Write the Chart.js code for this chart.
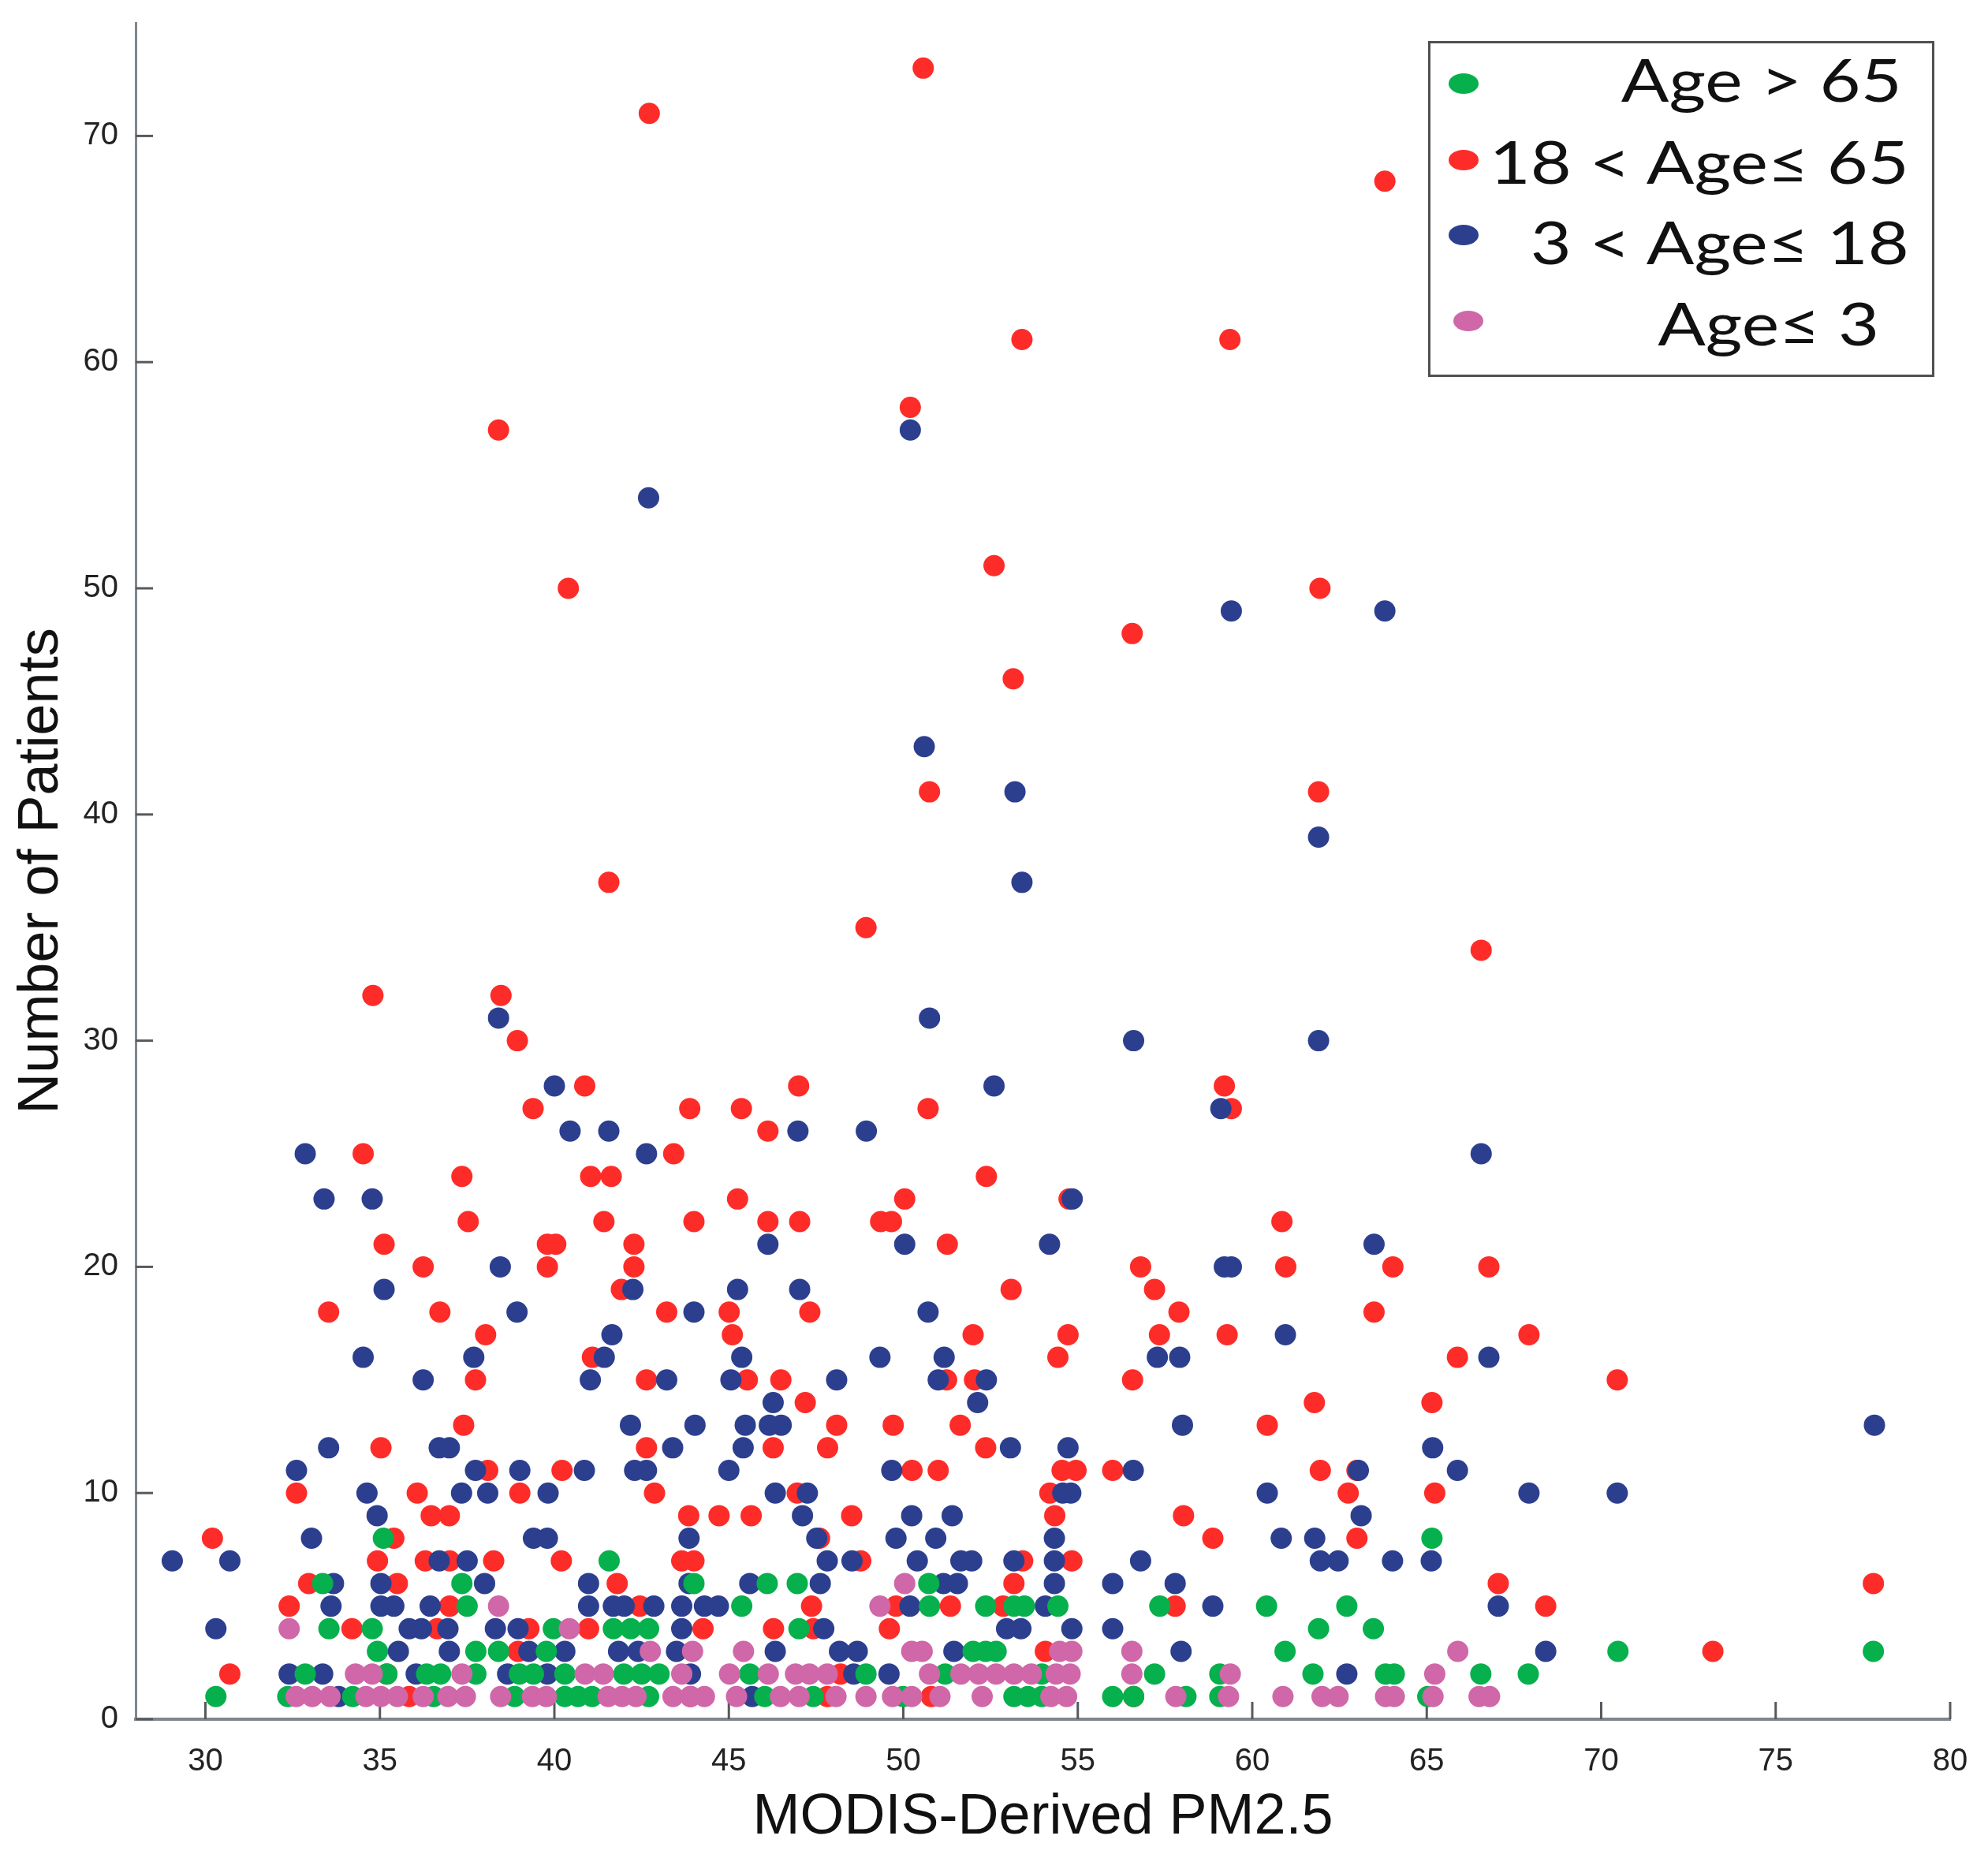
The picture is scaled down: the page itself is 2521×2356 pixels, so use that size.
<!DOCTYPE html>
<html>
<head>
<meta charset="utf-8">
<title>Number of Patients vs MODIS-Derived PM2.5</title>
<script src="https://cdn.jsdelivr.net/npm/chart.js@4.4.1/dist/chart.umd.min.js"></script>
<style>

    html, body{
        margin:0;
        padding:0;
        background:#ffffff;
        overflow:hidden;
    }

    #wrap{
        position:relative;
        width:2521px;
        height:2356px;
    }

    #legendBox{
        position:absolute;
        left:1811px;
        top:52px;
        width:642px;
        height:426px;
        box-sizing:border-box;
        border:3px solid #505050;
        background:#ffffff;
        font-family:Lato, "Open Sans", sans-serif;
        color:#111111;
    }

    .dot{
        position:absolute;
        width:38px;
        height:26px;
        border-radius:50%;
    }

    .lbl{
        position:absolute;
        font-size:76px;
        line-height:76px;
        height:76px;
        white-space:nowrap;
        transform:scaleX(1.18);
        transform-origin:right center;
    }

</style>
</head>
<body>

<div id="wrap">
    <canvas id="scatterChart" width="2521" height="2356"></canvas>
    <div id="legendBox"></div>
</div>

<script>

// TICK VALUES
const xTicks = [30, 35, 40, 45, 50, 55, 60, 65, 70, 75, 80];
const yTicks = [0, 10, 20, 30, 40, 50, 60, 70];


// SERIES NAMES + COLOURS
const seriesNames = ["Age > 65", "18 < Age\u2264 65", "3 < Age\u2264 18", "Age\u2264 3"];
const seriesColors = ["#06b04c", "#fe2c28", "#2c3f8f", "#cf67a8"];


// AGE > 65  [PM2.5, patients]
const olderPts = [
    [35.1,8],[65.15,8],
    [41.57,7],
    [33.36,6],[37.35,6],[44.0,6],[46.1,6],[46.96,6],[50.73,6],
    [37.5,5],[45.37,5],[50.75,5],[52.36,5],[53.17,5],[53.47,5],[54.43,5],[57.35,5],[60.41,5],[62.71,5],
    [33.54,4],[34.78,4],[39.97,4],[41.69,4],[42.19,4],[42.7,4],[47.01,4],[61.9,4],[63.47,4],
    [34.93,3],[37.75,3],[38.4,3],[39.77,3],[52.0,3],[52.36,3],[52.66,3],[60.94,3],[70.48,3],[77.8,3],
    [32.86,2],[35.2,2],[36.34,2],[36.74,2],[37.75,2],[39.0,2],[39.4,2],[40.3,2],[41.99,2],[42.5,2],[43.0,2],
    [45.6,2],[48.93,2],[51.2,2],[53.97,2],[57.2,2],[59.07,2],[61.74,2],[63.82,2],[64.07,2],[66.55,2],[67.91,2],
    [30.3,1],[32.36,1],[34.22,1],[36.54,1],[38.86,1],[40.3,1],[40.68,1],[41.08,1],[42.7,1],[46.03,1],
    [47.42,1],[49.99,1],[53.17,1],[53.57,1],[53.97,1],[56.0,1],[56.6,1],[58.1,1],[59.07,1],[65.03,1]
];


// 18 < AGE <= 65
const adultPts = [
    [50.57,73],[42.72,71],[63.8,68],[53.4,61],[59.36,61],[50.2,58],[38.4,57],[52.6,51],[40.4,50],[61.94,50],
    [56.56,48],[53.15,46],[50.75,41],[61.9,41],[41.56,37],[48.93,35],[66.56,34],[34.8,32],[38.47,32],[38.94,30],
    [40.87,28],[47.0,28],[59.2,28],
    [39.39,27],[43.88,27],[45.36,27],[50.71,27],[59.4,27],
    [46.12,26],
    [34.52,25],[43.42,25],
    [37.35,24],[41.04,24],[41.63,24],[52.38,24],
    [45.25,23],[50.04,23],[54.75,23],
    [37.53,22],[41.42,22],[44.0,22],[46.12,22],[47.03,22],[49.35,22],[49.66,22],[60.85,22],
    [35.12,21],[39.8,21],[40.04,21],[42.28,21],[51.26,21],
    [36.24,20],[39.8,20],[42.28,20],[56.8,20],[60.96,20],[64.03,20],[66.78,20],
    [41.92,19],[53.09,19],[57.2,19],
    [33.53,18],[36.72,18],[43.22,18],[45.01,18],[47.32,18],[57.9,18],[63.49,18],
    [38.03,17],[45.1,17],[52.0,17],[54.72,17],[57.34,17],[59.28,17],[67.93,17],
    [41.09,16],[54.43,16],[65.88,16],
    [37.74,15],[42.64,15],[45.53,15],[46.49,15],[51.24,15],[52.04,15],[56.57,15],[70.46,15],
    [47.19,14],[61.78,14],[65.15,14],
    [37.4,13],[48.09,13],[49.71,13],[51.63,13],[60.43,13],
    [35.03,12],[42.64,12],[46.27,12],[47.83,12],[52.36,12],
    [38.09,11],[40.22,11],[50.25,11],[51.0,11],[54.55,11],[54.95,11],[56.0,11],[61.95,11],[63.0,11],
    [32.61,10],[36.07,10],[39.01,10],[42.87,10],[46.96,10],[54.2,10],[62.75,10],[65.23,10],
    [36.47,9],[36.99,9],[43.85,9],[44.72,9],[45.64,9],[48.52,9],[54.34,9],[58.03,9],
    [30.2,8],[35.4,8],[47.6,8],[58.87,8],[63.0,8],
    [34.93,7],[36.3,7],[37.0,7],[38.26,7],[40.2,7],[43.65,7],[44.0,7],[48.78,7],[53.42,7],[54.83,7],
    [32.96,6],[35.5,6],[41.8,6],[53.17,6],[67.05,6],[77.8,6],
    [32.4,5],[37.0,5],[42.45,5],[47.37,5],[49.79,5],[51.35,5],[52.86,5],[57.79,5],[68.41,5],
    [34.2,4],[36.64,4],[39.27,4],[40.98,4],[44.26,4],[46.28,4],[47.42,4],[49.6,4],
    [38.96,3],[54.07,3],[73.2,3],
    [30.7,2],[35.2,2],[48.2,2],
    [35.84,1],[43.9,1],[47.82,1],[50.8,1],[56.6,1]
];


// 3 < AGE <= 18
const youthPts = [
    [50.2,57],[42.7,54],[59.4,49],[63.8,49],[50.6,43],[53.2,41],[61.9,39],[53.4,37],[38.4,31],[50.75,31],
    [56.6,30],[61.9,30],
    [40.0,28],[52.6,28],
    [59.1,27],
    [40.45,26],[41.56,26],[46.98,26],[48.94,26],
    [32.86,25],[42.64,25],[66.56,25],
    [33.4,23],[34.78,23],[54.84,23],
    [46.12,21],[50.04,21],[54.19,21],[63.49,21],
    [38.45,20],[59.2,20],[59.4,20],
    [35.12,19],[42.25,19],[45.25,19],[47.03,19],
    [38.93,18],[44.0,18],[50.71,18],
    [41.65,17],[60.95,17],
    [34.52,16],[37.69,16],[41.43,16],[45.37,16],[49.33,16],[51.17,16],[57.28,16],[57.92,16],[66.78,16],
    [36.24,15],[41.03,15],[43.22,15],[45.06,15],[48.09,15],[51.0,15],[52.38,15],
    [46.27,14],[52.13,14],
    [42.18,13],[44.03,13],[45.47,13],[46.16,13],[46.5,13],[58.0,13],[77.83,13],
    [33.53,12],[36.7,12],[36.99,12],[43.39,12],[45.41,12],[53.07,12],[54.72,12],[65.17,12],
    [32.61,11],[37.74,11],[39.01,11],[40.86,11],[42.3,11],[42.64,11],[45.0,11],[49.67,11],[56.59,11],[63.04,11],[65.88,11],
    [34.63,10],[37.34,10],[38.09,10],[39.82,10],[46.33,10],[47.25,10],[54.57,10],[54.8,10],[60.43,10],[67.93,10],[70.46,10],
    [34.92,9],[47.11,9],[50.24,9],[51.4,9],[63.12,9],
    [33.04,8],[39.4,8],[39.8,8],[43.86,8],[47.52,8],[49.79,8],[50.93,8],[54.33,8],[60.83,8],[61.79,8],
    [29.05,7],[30.7,7],[36.7,7],[37.5,7],[47.82,7],[48.53,7],[50.4,7],[51.65,7],[51.96,7],[53.17,7],
    [54.33,7],[56.8,7],[61.95,7],[62.46,7],[64.02,7],[65.13,7],
    [33.67,6],[35.03,6],[38.0,6],[40.98,6],[43.86,6],[45.6,6],[47.62,6],[51.15,6],[51.55,6],[54.33,6],[56.0,6],[57.79,6],
    [33.6,5],[35.03,5],[35.4,5],[36.44,5],[40.98,5],[41.69,5],[42.0,5],[42.85,5],[43.65,5],[44.3,5],[44.7,5],
    [50.19,5],[54.07,5],[58.87,5],[67.05,5],
    [30.3,4],[35.84,4],[36.19,4],[36.95,4],[38.31,4],[38.96,4],[43.65,4],[47.72,4],[52.96,4],[53.37,4],[54.83,4],[56.0,4],
    [35.53,3],[36.99,3],[39.27,3],[40.3,3],[41.84,3],[42.4,3],[43.5,3],[46.33,3],[48.17,3],[48.68,3],[51.45,3],[57.96,3],[68.41,3],
    [32.4,2],[33.36,2],[36.04,2],[38.66,2],[39.8,2],[43.9,2],[48.58,2],[49.59,2],[62.71,2],
    [33.82,1],[45.67,1]
];


// AGE <= 3
const infantPts = [
    [50.04,6],
    [38.4,5],[49.33,5],
    [32.4,4],[40.43,4],
    [42.75,3],[43.96,3],[45.42,3],[50.24,3],[50.54,3],[54.48,3],[54.83,3],[56.55,3],[65.89,3],
    [34.3,2],[34.78,2],[37.35,2],[40.88,2],[41.4,2],[43.65,2],[45.02,2],[46.13,2],[46.91,2],[47.31,2],[47.82,2],
    [50.75,2],[51.65,2],[52.16,2],[52.66,2],[53.17,2],[53.67,2],[54.38,2],[54.78,2],[56.55,2],[59.37,2],[65.23,2],
    [32.6,1],[33.06,1],[33.57,1],[34.6,1],[35.03,1],[35.5,1],[36.24,1],[36.95,1],[37.45,1],[38.46,1],[39.37,1],
    [39.77,1],[41.54,1],[41.94,1],[42.34,1],[43.4,1],[43.9,1],[44.3,1],[45.22,1],[46.48,1],[47.01,1],[48.07,1],
    [48.93,1],[49.69,1],[50.24,1],[51.05,1],[52.26,1],[54.23,1],[54.68,1],[57.81,1],[59.32,1],[60.88,1],[62.0,1],
    [62.46,1],[63.82,1],[64.07,1],[65.18,1],[66.5,1],[66.8,1]
];


const FONT = "'Liberation Sans', Arial, sans-serif";


// TURN [x,y] PAIRS INTO CHART POINTS
function toPoints(list){

    return list.map(p => ({x:p[0], y:p[1]}));

}


// KEEP THE PLOT AREA WHERE THE LAYOUT PADDING PUTS IT
function clearScalePadding(scale){

    scale.paddingTop = 0;
    scale.paddingBottom = 0;
    scale.paddingLeft = 0;
    scale.paddingRight = 0;

}


// SHORT TICK MARKS POINTING INTO THE PLOT
const inwardTicks = {

    id:"inwardTicks",

    beforeDatasetsDraw(chart){

        const {ctx, chartArea, scales} = chart;

        ctx.save();
        ctx.strokeStyle = "#555a5e";
        ctx.lineWidth = 3;

        scales.x.ticks.forEach(t => {
            const px = scales.x.getPixelForValue(t.value);
            ctx.beginPath();
            ctx.moveTo(px, chartArea.bottom);
            ctx.lineTo(px, chartArea.bottom - 22);
            ctx.stroke();
        });

        scales.y.ticks.forEach(t => {
            const py = scales.y.getPixelForValue(t.value);
            ctx.beginPath();
            ctx.moveTo(chartArea.left, py);
            ctx.lineTo(chartArea.left + 22, py);
            ctx.stroke();
        });

        ctx.restore();

    }

};


// BUILD THE HTML LEGEND
function buildLegend(){

    const box = document.getElementById("legendBox");

    const dotTops = [38, 135, 230, 339];
    const dotLefts = [23, 23, 23, 29];
    const textTops = [7, 111, 213, 316];
    const textRights = [38, 29, 29, 67];

    seriesNames.forEach((name, i) => {

        const dot = document.createElement("div");
        dot.className = "dot";
        dot.style.background = seriesColors[i];
        dot.style.top = dotTops[i] + "px";
        dot.style.left = dotLefts[i] + "px";
        box.appendChild(dot);

        const lbl = document.createElement("div");
        lbl.className = "lbl";
        lbl.textContent = name;
        lbl.style.top = textTops[i] + "px";
        lbl.style.right = textRights[i] + "px";
        box.appendChild(lbl);

    });

}


// DRAW CHART
function drawChart(){

    const seriesPts = [olderPts, adultPts, youthPts, infantPts];
    const drawOrder = [2, 4, 3, 1];

    const datasets = seriesPts.map((pts, i) => ({
        label:seriesNames[i],
        data:toPoints(pts),
        backgroundColor:seriesColors[i],
        borderColor:seriesColors[i],
        borderWidth:0,
        pointRadius:13.5,
        pointHoverRadius:13.5,
        pointBorderWidth:0,
        showLine:false,
        order:drawOrder[i]
    }));

    new Chart(

        document.getElementById("scatterChart"),

        {
            type:"scatter",
            data:{ datasets:datasets },
            plugins:[inwardTicks],
            options:{
                responsive:false,
                animation:false,
                devicePixelRatio:1,
                layout:{ padding:{ top:29, right:48, left:0, bottom:0 } },
                plugins:{
                    legend:{ display:false },
                    tooltip:{ enabled:false }
                },
                scales:{
                    x:{
                        type:"linear",
                        position:"bottom",
                        min:28,
                        max:80,
                        afterBuildTicks:scale => { scale.ticks = xTicks.map(v => ({value:v})); },
                        afterFit:scale => { scale.height = 176; clearScalePadding(scale); },
                        grid:{ display:false },
                        border:{ display:true, color:"#80868a", width:4 },
                        ticks:{
                            font:{ family:FONT, size:40 },
                            color:"#222222",
                            padding:22,
                            maxRotation:0,
                            autoSkip:false
                        },
                        title:{
                            display:true,
                            text:"MODIS-Derived PM2.5",
                            font:{ family:FONT, size:72 },
                            color:"#111111",
                            padding:{ top:0, bottom:8 }
                        }
                    },
                    y:{
                        type:"linear",
                        min:0,
                        max:75,
                        afterBuildTicks:scale => { scale.ticks = yTicks.map(v => ({value:v})); },
                        afterFit:scale => { scale.width = 172; clearScalePadding(scale); },
                        grid:{ display:false },
                        border:{ display:true, color:"#80868a", width:3 },
                        ticks:{
                            font:{ family:FONT, size:40 },
                            color:"#222222",
                            padding:14,
                            autoSkip:false
                        },
                        title:{
                            display:true,
                            text:"Number of Patients",
                            font:{ family:FONT, size:72 },
                            color:"#111111",
                            padding:{ top:10, bottom:0 }
                        }
                    }
                }
            }
        }

    );

}


// PAGE LOAD
document.addEventListener("DOMContentLoaded", () => {

    buildLegend();
    drawChart();

});

</script>
</body>
</html>
